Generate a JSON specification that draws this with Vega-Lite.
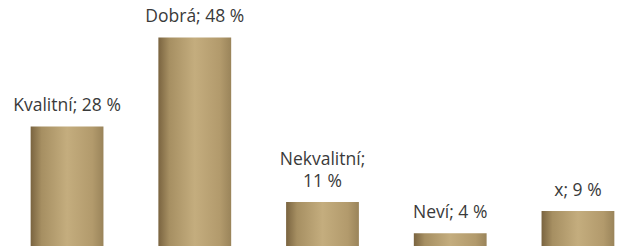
{
  "$schema": "https://vega.github.io/schema/vega-lite/v6.json",
  "width": 645,
  "height": 251,
  "padding": 0,
  "autosize": {"type": "none"},
  "background": "#ffffff",
  "config": {"view": {"stroke": null}},
  "data": {
    "values": [
      {"kat": "Kvalitní", "pct": 28, "line1": "", "line2": "Kvalitní; 28 %"},
      {"kat": "Dobrá", "pct": 48, "line1": "", "line2": "Dobrá; 48 %"},
      {"kat": "Nekvalitní", "pct": 11, "line1": "Nekvalitní;", "line2": "11 %"},
      {"kat": "Neví", "pct": 4, "line1": "", "line2": "Neví; 4 %"},
      {"kat": "x", "pct": 9, "line1": "", "line2": "x; 9 %"}
    ]
  },
  "encoding": {
    "x": {
      "field": "kat",
      "type": "nominal",
      "sort": null,
      "axis": null,
      "scale": {"paddingInner": 0.43, "paddingOuter": 0.24}
    },
    "y": {
      "field": "pct",
      "type": "quantitative",
      "axis": null,
      "scale": {"domain": [0, 56.4], "nice": false, "zero": true}
    }
  },
  "layer": [
    {
      "mark": {
        "type": "bar",
        "color": {
          "gradient": "linear",
          "x1": 0, "y1": 0, "x2": 1, "y2": 0,
          "stops": [
            {"offset": 0, "color": "#7a6440"},
            {"offset": 0.15, "color": "#a68f62"},
            {"offset": 0.5, "color": "#c4ad7e"},
            {"offset": 0.85, "color": "#b29a6c"},
            {"offset": 1, "color": "#9a845a"}
          ]
        }
      }
    },
    {
      "mark": {
        "type": "text",
        "baseline": "alphabetic",
        "align": "center",
        "dy": -15,
        "font": "Open Sans",
        "fontSize": 17.5,
        "color": "#3a3a3a"
      },
      "encoding": {"text": {"field": "line2"}}
    },
    {
      "mark": {
        "type": "text",
        "baseline": "alphabetic",
        "align": "center",
        "dy": -37,
        "font": "Open Sans",
        "fontSize": 17.5,
        "color": "#3a3a3a"
      },
      "encoding": {"text": {"field": "line1"}}
    }
  ]
}
